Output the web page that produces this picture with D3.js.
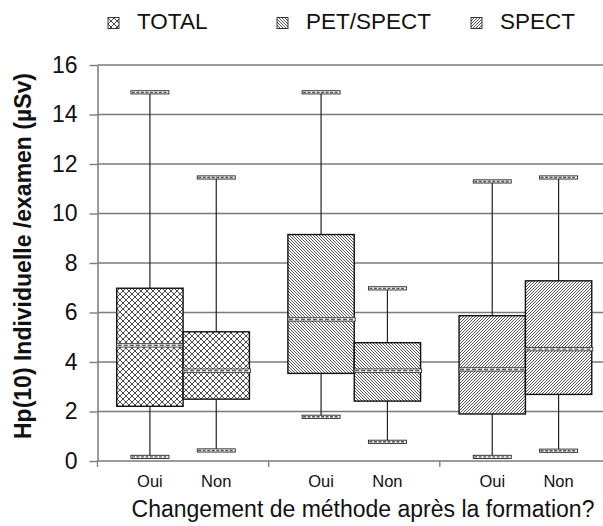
<!DOCTYPE html>
<html><head><meta charset="utf-8">
<script src="https://cdn.jsdelivr.net/npm/d3@7"></script>
<style>body{margin:0;background:#fff}svg{display:block}text{font-family:"Liberation Sans",Arial,sans-serif;fill:#111}</style>
</head><body>
<script>
const groups = ["TOTAL", "PET/SPECT", "SPECT"];
const subgroups = ["Oui", "Non"];
// per group: [Oui, Non]
const whiskerLow  = [[0.17, 0.43], [1.79, 0.78], [0.17, 0.42]];
const q1Values    = [[2.21, 2.50], [3.54, 2.42], [1.90, 2.69]];
const medValues   = [[4.67, 3.65], [5.72, 3.65], [3.70, 4.52]];
const q3Values    = [[6.98, 5.22], [9.15, 4.78], [5.87, 7.28]];
const whiskerHigh = [[14.9, 11.46], [14.9, 6.98], [11.30, 11.46]];
const yTicks = [0, 2, 4, 6, 8, 10, 12, 14, 16];
const yLabel = "Hp(10) Individuelle /examen (µSv)";
const xLabel = "Changement de méthode après la formation?";
const patternIds = ["pTotal", "pPet", "pSpect"];

const W = 603, H = 526;
const svg = d3.select("body").append("svg").attr("width", W).attr("height", H);
const defs = svg.append("defs");

// patterns
const pt = defs.append("pattern").attr("id", "pTotal").attr("patternUnits", "userSpaceOnUse").attr("width", 6).attr("height", 6);
pt.append("rect").attr("width", 6).attr("height", 6).attr("fill", "#fff");
pt.append("path").attr("d", "M0,0L6,6M6,0L0,6M-1,5L1,7M5,-1L7,1M-1,1L1,-1M5,7L7,5").attr("stroke", "#1a1a1a").attr("stroke-width", 0.8);

const pp = defs.append("pattern").attr("id", "pPet").attr("patternUnits", "userSpaceOnUse").attr("width", 3).attr("height", 3);
pp.append("rect").attr("width", 3).attr("height", 3).attr("fill", "#fff");
pp.append("path").attr("d", "M0,0L3,3M-1.5,1.5L1.5,4.5M1.5,-1.5L4.5,1.5").attr("stroke", "#2a2a2a").attr("stroke-width", 0.8);

const ps = defs.append("pattern").attr("id", "pSpect").attr("patternUnits", "userSpaceOnUse").attr("width", 3).attr("height", 3);
ps.append("rect").attr("width", 3).attr("height", 3).attr("fill", "#fff");
ps.append("path").attr("d", "M0,3L3,0M-1.5,1.5L1.5,-1.5M1.5,4.5L4.5,1.5").attr("stroke", "#2a2a2a").attr("stroke-width", 0.8);

const y = d3.scaleLinear().domain([0, 16]).range([461, 65]);
const x0 = d3.scaleBand().domain(groups).range([97.5, 611]).padding(0);
const x1 = d3.scaleBand().domain(subgroups).range([0, x0.bandwidth()]).paddingInner(0).paddingOuter(0.29);

// gridlines
svg.append("g").selectAll("line").data(yTicks.filter(d => d > 0)).join("line")
  .attr("x1", 97.5).attr("x2", W).attr("y1", d => y(d)).attr("y2", d => y(d))
  .attr("stroke", "#7a7a7a").attr("stroke-width", 1.4);

// y axis
const yAxis = d3.axisLeft(y).tickValues(yTicks).tickSize(8).tickPadding(12).tickSizeOuter(0);
const ga = svg.append("g").attr("transform", "translate(97.5,0)").call(yAxis);
ga.select(".domain").attr("stroke", "#7a7a7a").attr("stroke-width", 1.5);
ga.selectAll(".tick line").attr("stroke", "#7a7a7a").attr("stroke-width", 1.4);
ga.selectAll(".tick text").attr("font-size", 23).attr("font-family", "Liberation Sans, Arial, sans-serif").attr("fill", "#111");

// x axis
svg.append("line").attr("x1", 97.5).attr("x2", W).attr("y1", y(0)).attr("y2", y(0)).attr("stroke", "#7a7a7a").attr("stroke-width", 1.5);
svg.append("g").selectAll("line").data(groups).join("line")
  .attr("x1", d => x0(d)).attr("x2", d => x0(d)).attr("y1", y(0)).attr("y2", y(0) + 6)
  .attr("stroke", "#7a7a7a").attr("stroke-width", 1.3);

// boxes
const capHalf = 19;
groups.forEach((g, gi) => {
  subgroups.forEach((s, si) => {
    const bx = x0(g) + x1(s), bw = x1.bandwidth(), cx = bx + bw / 2;
    const lo = whiskerLow[gi][si], q1 = q1Values[gi][si], md = medValues[gi][si], q3 = q3Values[gi][si], hi = whiskerHigh[gi][si];
    const gg = svg.append("g");
    gg.append("line").attr("x1", cx).attr("x2", cx).attr("y1", y(lo)).attr("y2", y(q1)).attr("stroke", "#222").attr("stroke-width", 1.2);
    gg.append("line").attr("x1", cx).attr("x2", cx).attr("y1", y(q3)).attr("y2", y(hi)).attr("stroke", "#222").attr("stroke-width", 1.2);
    [lo, hi].forEach(v => {
      gg.append("rect").attr("x", cx - capHalf).attr("y", y(v) - 1.5).attr("width", capHalf * 2).attr("height", 3.2)
        .attr("fill", "#fff").attr("stroke", "#222").attr("stroke-width", 0.9);
      gg.append("line").attr("x1", cx - capHalf + 1).attr("x2", cx + capHalf - 1).attr("y1", y(v) + 0.1).attr("y2", y(v) + 0.1)
        .attr("stroke", "#555").attr("stroke-width", 1.4).attr("stroke-dasharray", "3,1.5");
    });
    gg.append("rect").attr("x", bx).attr("y", y(q3)).attr("width", bw).attr("height", y(q1) - y(q3))
      .attr("fill", `url(#${patternIds[gi]})`).attr("stroke", "#111").attr("stroke-width", 1.4);
    gg.append("rect").attr("x", bx).attr("y", y(md) - 1.7).attr("width", bw + 1).attr("height", 3.4)
      .attr("fill", "#fff").attr("stroke", "#333").attr("stroke-width", 0.9);
    gg.append("line").attr("x1", bx + 1).attr("x2", bx + bw).attr("y1", y(md)).attr("y2", y(md))
      .attr("stroke", "#555").attr("stroke-width", 1.4).attr("stroke-dasharray", "4,2");
    svg.append("text").attr("x", cx).attr("y", 487).attr("text-anchor", "middle").attr("font-size", 16.5).text(s);
  });
});

// axis titles
svg.append("text").attr("transform", "translate(31,256) rotate(-90)").attr("text-anchor", "middle")
  .attr("font-size", 23).attr("font-weight", "bold").text(yLabel);
svg.append("text").attr("x", 363).attr("y", 517).attr("text-anchor", "middle").attr("font-size", 23).text(xLabel);

// legend
const legX = [108, 277, 471];
groups.forEach((g, i) => {
  svg.append("rect").attr("x", legX[i]).attr("y", 17.5).attr("width", 11).attr("height", 11)
    .attr("fill", `url(#${patternIds[i]})`).attr("stroke", "#222").attr("stroke-width", 0.9);
  svg.append("text").attr("x", legX[i] + 29).attr("y", 29).attr("font-size", 22.5).text(g);
});
</script>
</body></html>
